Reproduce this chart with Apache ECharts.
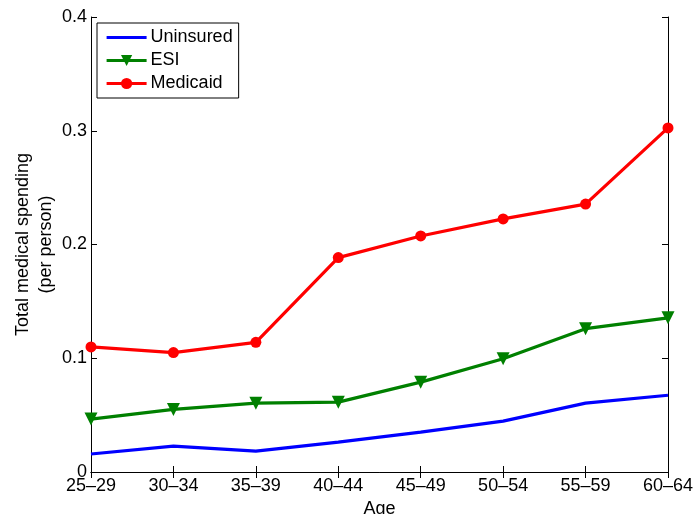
<!DOCTYPE html>
<html>
<head>
<meta charset="utf-8">
<script src="https://cdn.jsdelivr.net/npm/echarts@6/dist/echarts.min.js"></script>
<style>html,body{margin:0;padding:0;background:#fff}#c{width:693px;height:514px}</style>
</head>
<body>
<div id="c"></div>
<script>
const categories = ['25–29','30–34','35–39','40–44','45–49','50–54','55–59','60–64'];
const uninsured = [0.0158,0.0228,0.0184,0.0263,0.0350,0.0447,0.0605,0.0675];
const esi = [0.0465,0.0550,0.0605,0.0614,0.0790,0.0995,0.1260,0.1355];
const medicaid = [0.1100,0.1050,0.1140,0.1885,0.2075,0.2225,0.2355,0.3025];
const yTicks = [0,0.1,0.2,0.3,0.4];

const FONT = 'Liberation Sans, Arial, Helvetica, sans-serif';
const chart = echarts.init(document.getElementById('c'), null, {renderer:'canvas'});
const axisLine = {show:true, lineStyle:{color:'#000', width:1}};
chart.setOption({
  animation:false,
  backgroundColor:'#fff',
  textStyle:{fontFamily:FONT, color:'#000'},
  grid:{left:91, right:25, top:17, bottom:42, containLabel:false, outerBoundsMode:'none'},
  legend:{
    left:97, top:23, orient:'vertical',
    backgroundColor:'#fff', borderColor:'#000', borderWidth:1, borderRadius:0,
    padding:[5,6,5,8],
    itemWidth:40, itemHeight:14, itemGap:4,
    lineStyle:{width:3.2},
    textStyle:{fontFamily:FONT, fontSize:18, color:'#000', padding:[0,0,0,-1], lineHeight:19},
    data:[{name:'Uninsured', itemStyle:{opacity:0}},'ESI','Medicaid']
  },
  xAxis:[{
    type:'category', data:categories, boundaryGap:false,
    name:'Age', nameLocation:'middle', nameGap:28, nameMoveOverlap:false,
    nameTextStyle:{fontFamily:FONT, fontSize:18, color:'#000'},
    axisLine:axisLine,
    axisTick:{show:true, inside:true, length:6, lineStyle:{color:'#000'}},
    axisLabel:{fontFamily:FONT, fontSize:18, color:'#000', margin:5, interval:0},
    splitLine:{show:false}
  },{
    type:'category', data:categories, boundaryGap:false, position:'top',
    axisLine:axisLine,
    axisTick:{show:true, inside:true, length:6, lineStyle:{color:'#000'}},
    axisLabel:{show:false}, splitLine:{show:false}
  }],
  yAxis:[{
    type:'value', min:yTicks[0], max:yTicks[yTicks.length-1], interval:0.1,
    name:'Total medical spending\n(per person)', nameLocation:'middle', nameGap:33, nameMoveOverlap:false,
    nameTextStyle:{fontFamily:FONT, fontSize:18, color:'#000', lineHeight:23, align:'center'},
    axisLine:axisLine,
    axisTick:{show:true, inside:true, length:6, lineStyle:{color:'#000'}},
    axisLabel:{fontFamily:FONT, fontSize:18, color:'#000', margin:4},
    splitLine:{show:false}
  },{
    type:'value', min:yTicks[0], max:yTicks[yTicks.length-1], interval:0.1, position:'right',
    axisLine:axisLine,
    axisTick:{show:true, inside:true, length:6, lineStyle:{color:'#000'}},
    axisLabel:{show:false}, splitLine:{show:false}
  }],
  series:[
    {name:'Uninsured', type:'line', data:uninsured, symbol:'none',
     lineStyle:{color:'#0000ff', width:3.2}, itemStyle:{color:'#0000ff'}},
    {name:'ESI', type:'line', data:esi, symbol:'triangle', symbolRotate:180, symbolSize:13,
     lineStyle:{color:'#008000', width:3.2}, itemStyle:{color:'#008000'}},
    {name:'Medicaid', type:'line', data:medicaid, symbol:'circle', symbolSize:11,
     lineStyle:{color:'#ff0000', width:3.2}, itemStyle:{color:'#ff0000'}}
  ]
});
</script>
</body>
</html>
